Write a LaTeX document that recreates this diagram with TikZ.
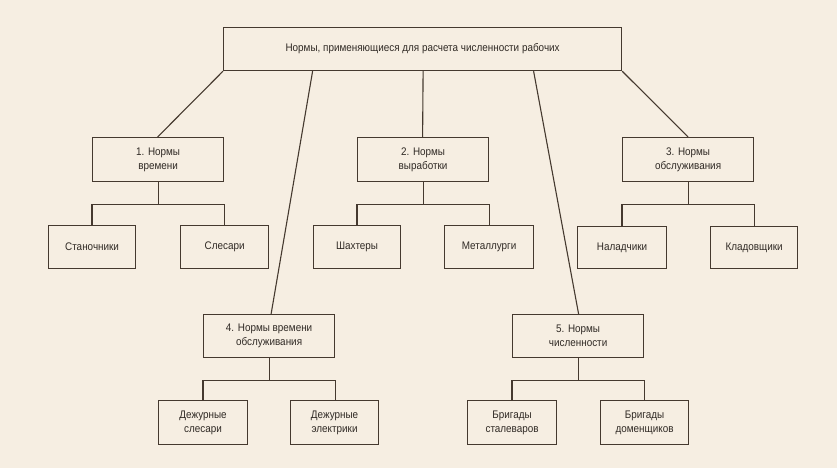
\documentclass[tikz,border=0pt]{standalone}
\usepackage{fontspec}
\setmainfont{Liberation Sans}[FakeStretch=0.9]
\definecolor{paper}{HTML}{F6EEE2}
\definecolor{ink}{HTML}{45392F}
\definecolor{txt}{HTML}{302A25}
\begin{document}
\begin{tikzpicture}[x=1pt,y=-1pt,
  box/.style={draw=ink,line width=1.2pt,fill=none,inner sep=0pt,text=txt,
    font=\fontsize{11}{14}\selectfont,align=center,anchor=north west},
  link/.style={draw=ink,line width=1.1pt}]
\fill[paper] (0,0) rectangle (837,468);
\useasboundingbox (0,0) rectangle (837,468);
% top
\node[box,minimum width=398pt,minimum height=43pt] (top) at (223,27) {Нормы, применяющиеся для расчета численности рабочих};
% level 1
\node[box,minimum width=131pt,minimum height=44pt] (n1) at (92,137) {1. Нормы\\времени};
\node[box,minimum width=131pt,minimum height=44pt] (n2) at (357,137) {2. Нормы\\выработки};
\node[box,minimum width=131pt,minimum height=44pt] (n3) at (622,137) {3. Нормы\\обслуживания};
\node[box,minimum width=131pt,minimum height=43pt] (n4) at (203,314) {4. Нормы времени\\обслуживания};
\node[box,minimum width=131pt,minimum height=43pt] (n5) at (512,314) {5. Нормы\\численности};
% leaves
\node[box,minimum width=87pt,minimum height=43pt] (a1) at (48,225) {Станочники};
\node[box,minimum width=88pt,minimum height=43pt] (a2) at (180,225) {Слесари};
\node[box,minimum width=87pt,minimum height=43pt] (b1) at (313,225) {Шахтеры};
\node[box,minimum width=89pt,minimum height=43pt] (b2) at (444,225) {Металлурги};
\node[box,minimum width=89pt,minimum height=42pt] (c1) at (577,226) {Наладчики};
\node[box,minimum width=87pt,minimum height=42pt] (c2) at (710,226) {Кладовщики};
\node[box,minimum width=89pt,minimum height=44pt] (d1) at (158,400) {Дежурные\\слесари};
\node[box,minimum width=88pt,minimum height=44pt] (d2) at (290,400) {Дежурные\\электрики};
\node[box,minimum width=89pt,minimum height=44pt] (e1) at (467,400) {Бригады\\сталеваров};
\node[box,minimum width=88pt,minimum height=44pt] (e2) at (600,400) {Бригады\\доменщиков};
% links from top
\draw[link] (top.south west) -- ([xshift=-0.5pt]n1.north);
\draw[link] (top.south east) -- (n3.north);
\draw[link] ([xshift=-110pt]top.south) -- ([xshift=2pt]n4.north);
\draw[link] ([xshift=0.5pt]top.south) -- ([xshift=-0.5pt]n2.north);
\draw[link] ([xshift=111pt]top.south) -- ([xshift=0.5pt]n5.north);
% brackets
\foreach \p/\l/\r in {n1/a1/a2,n2/b1/b2,n3/c1/c2,n4/d1/d2,n5/e1/e2}{
  \coordinate (\p-mid) at ([yshift=-22pt]\p.south);
  \draw[link] (\p.south) -- (\p-mid);
  \draw[link] (\p.south west |- \l.north) -- (\p.south west |- \p-mid) -- (\p.south east |- \p-mid) -- (\p.south east |- \r.north);
}
\end{tikzpicture}
\end{document}
